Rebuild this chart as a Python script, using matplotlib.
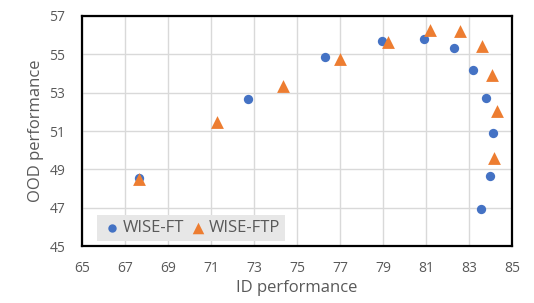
import matplotlib
matplotlib.use("Agg")
import matplotlib.pyplot as plt

ft_x = [67.65, 72.72, 76.30, 78.94, 80.92, 82.29, 83.17, 83.79, 84.12, 83.99, 83.56]
ft_y = [48.53, 52.68, 54.86, 55.71, 55.80, 55.33, 54.20, 52.74, 50.88, 48.65, 46.95]
ftp_x = [67.65, 71.29, 74.36, 77.00, 79.22, 81.19, 82.60, 83.60, 84.05, 84.30, 84.18]
ftp_y = [48.50, 51.45, 53.35, 54.74, 55.66, 56.25, 56.20, 55.42, 53.90, 52.04, 49.60]
xticks = list(range(65, 86, 2))
yticks = list(range(45, 58, 2))

plt.rcParams['font.family'] = ['Open Sans', 'DejaVu Sans']
txt = '#595959'

fig = plt.figure(figsize=(5.34, 3.03), dpi=100)
ax = fig.add_axes([0.1536, 0.1881, 0.8052, 0.7591])
ax.scatter(ft_x, ft_y, s=45, marker='o', color='#4472C4', label='WISE-FT', zorder=3, linewidths=0)
ax.scatter(ftp_x, ftp_y, s=85, marker='^', color='#ED7D31', label='WISE-FTP', zorder=4, linewidths=0)
ax.set_xlim(65, 85)
ax.set_ylim(45, 57)
ax.set_xticks(xticks)
ax.set_yticks(yticks)
ax.grid(True, color='#d9d9d9', linewidth=1)
ax.set_axisbelow(True)
ax.tick_params(length=0, labelsize=10, colors=txt)
ax.tick_params(axis='x', pad=10.5)
ax.tick_params(axis='y', pad=12)
for s in ax.spines.values():
    s.set_color('black')
    s.set_linewidth(1.6)
ax.set_xlabel('ID performance', fontsize=12, color=txt, labelpad=3)
ax.set_ylabel('OOD performance', fontsize=12, color=txt, labelpad=4)
leg = ax.legend(loc='lower left', bbox_to_anchor=(0.034, 0.022), ncol=2, frameon=True,
                fontsize=12, handletextpad=0.05, columnspacing=0.25, borderaxespad=0,
                handlelength=1.2, borderpad=0.3, fancybox=False, markerscale=0.9)
leg.get_frame().set_facecolor('#e7e7e7')
leg.get_frame().set_edgecolor('none')
leg.get_frame().set_alpha(1)
for t in leg.get_texts():
    t.set_color(txt)
fig.savefig('out.png', dpi=100)
